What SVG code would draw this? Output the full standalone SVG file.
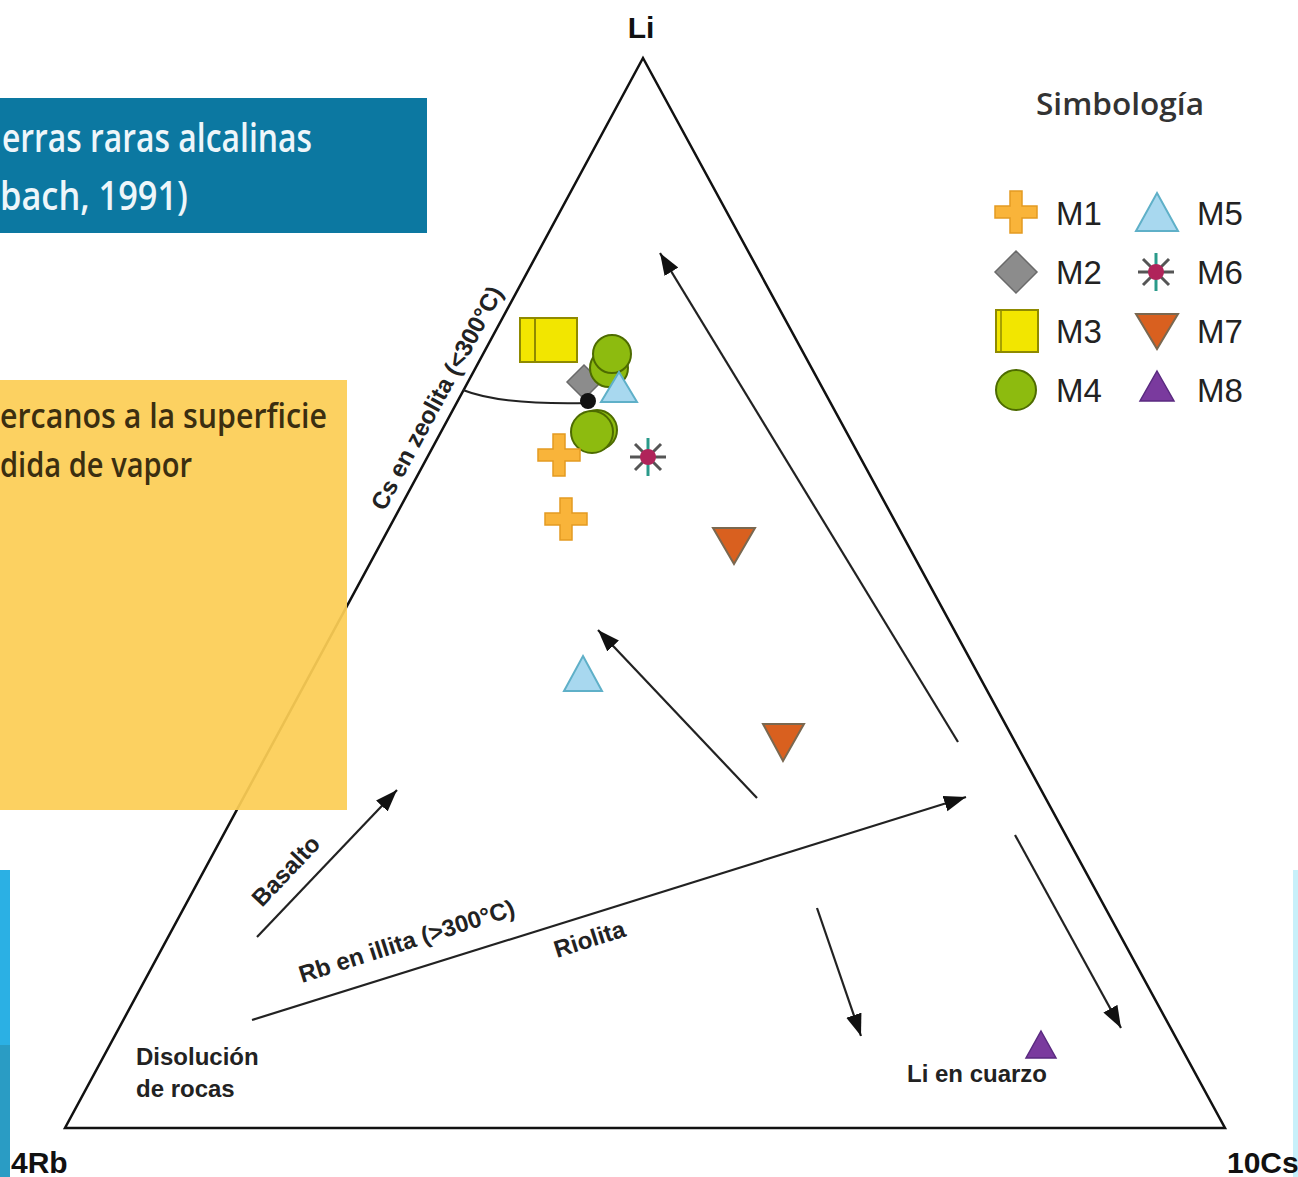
<svg xmlns="http://www.w3.org/2000/svg" width="1298" height="1177" viewBox="0 0 1298 1177">
<style>
.lbl{font-family:"Liberation Sans",Arial,sans-serif;font-weight:bold;font-size:24px;fill:#222}
.ax{font-family:"Liberation Sans",Arial,sans-serif;font-weight:bold;font-size:30px;fill:#111}
.leg{font-family:"Liberation Sans",Arial,sans-serif;font-size:33px;fill:#222}
.cond{font-family:"Open Sans","Noto Sans",sans-serif;font-weight:600}
.edge{fill:none;stroke:#111;stroke-width:2.5}
.arr{fill:none;stroke:#222;stroke-width:2.2;marker-end:url(#ah)}
.m1{fill:#f9b43a;stroke:#e39a22;stroke-width:1.5}
.m2{fill:#8c8c8c;stroke:#6a6a6a;stroke-width:1.5}
.m3{fill:#f2e600;stroke:#8f8a00;stroke-width:2}
.m4{fill:#8dbb0f;stroke:#4d6b00;stroke-width:2}
.m5{fill:#a8d8ef;stroke:#5fb0c8;stroke-width:2}
.m7{fill:#d9601f;stroke:#7a6850;stroke-width:2}
.m8{fill:#7a3a9e;stroke:#5a2a80;stroke-width:1.5}
</style>
<defs>
<marker id="ah" markerUnits="userSpaceOnUse" markerWidth="24" markerHeight="18" refX="22" refY="8" orient="auto">
<path d="M0,0 L22,8 L0,16 z" fill="#111"/>
</marker>
<path id="cross" d="M-6,-21 H6 V-6 H21 V6 H6 V21 H-6 V6 H-21 V-6 H-6 z"/>
<g id="star">
<g stroke="#555" stroke-width="3">
<line x1="-18" y1="0" x2="18" y2="0"/>
<line x1="-13" y1="-13" x2="13" y2="13"/>
<line x1="-13" y1="13" x2="13" y2="-13"/>
</g>
<line x1="0" y1="-19" x2="0" y2="19" stroke="#2a9a8a" stroke-width="3"/>
<circle r="8" fill="#b0245a"/>
</g>
</defs>
<rect width="1298" height="1177" fill="#fff"/>

<g id="banner">
<rect x="0" y="98" width="427" height="135" fill="#0c78a1"/>
<text class="cond" x="2" y="152" font-size="40" fill="#eef6fa" textLength="310" lengthAdjust="spacingAndGlyphs">erras raras alcalinas</text>
<text class="cond" x="0" y="210" font-size="40" fill="#eef6fa" textLength="188" lengthAdjust="spacingAndGlyphs">bach, 1991)</text>
</g>

<g id="left-strip">
<rect x="0" y="870" width="10" height="175" fill="#2bb0e4"/>
<rect x="0" y="1045" width="10" height="132" fill="#2a9cc4"/>
<rect x="1293" y="870" width="5" height="307" fill="#c8f0fa"/>
</g>

<g id="triangle">
<path class="edge" d="M643,58 L65,1128 L1225,1128 Z"/>
</g>

<g id="note">
<rect x="0" y="380" width="347" height="430" fill="#fccd55" fill-opacity="0.93"/>
<text class="cond" x="0" y="428" font-size="34" fill="#3b2e10" textLength="327" lengthAdjust="spacingAndGlyphs">ercanos a la superficie</text>
<text class="cond" x="0" y="477" font-size="34" fill="#3b2e10" textLength="192" lengthAdjust="spacingAndGlyphs">dida de vapor</text>
</g>

<g id="vertex-labels">
<text class="ax" x="641" y="38" text-anchor="middle" font-size="29">Li</text>
<text class="ax" x="11" y="1173">4Rb</text>
<text class="ax" x="1227" y="1173" font-size="28.5">10Cs</text>
</g>

<g id="connectors">
<line class="arr" x1="958" y1="742" x2="660" y2="253"/>
<line class="arr" x1="757" y1="798" x2="598" y2="630"/>
<line class="arr" x1="257" y1="937" x2="397" y2="790"/>
<line class="arr" x1="252" y1="1020" x2="966" y2="797"/>
<line class="arr" x1="817" y1="908" x2="861" y2="1036"/>
<line class="arr" x1="1015" y1="835" x2="1121" y2="1028"/>
<path d="M463,390 Q500,405 588,403" fill="none" stroke="#222" stroke-width="2"/>
</g>

<g id="process-labels">
<text class="lbl" transform="translate(444,402) rotate(-61.6)" text-anchor="middle" font-size="25">Cs en zeolita (&lt;300°C)</text>
<text class="lbl" transform="translate(262,908) rotate(-46.5)">Basalto</text>
<text class="lbl" transform="translate(302,983) rotate(-17.6)">Rb en illita (&gt;300°C)</text>
<text class="lbl" transform="translate(557,958) rotate(-17.5)">Riolita</text>
<text class="lbl" x="136" y="1065" font-size="24.5">Disolución</text>
<text class="lbl" x="136" y="1097" font-size="24.5">de rocas</text>
<text class="lbl" x="907" y="1082">Li en cuarzo</text>
</g>

<g id="samples">
<g id="s-m3"><rect class="m3" x="520" y="318" width="42" height="44"/><rect class="m3" x="535" y="318" width="42" height="44"/></g>
<g id="s-m2"><path class="m2" d="M584,365 L601,382 L584,399 L567,382 Z"/></g>
<g id="s-m4a"><circle class="m4" cx="609" cy="368" r="19"/><circle class="m4" cx="612" cy="354" r="19"/></g>
<g id="s-m5a"><path class="m5" d="M619,372 L637,402 L601,402 Z"/></g>
<g id="s-dot"><circle cx="588" cy="401" r="8" fill="#111"/></g>
<g id="s-m4b"><circle class="m4" cx="597" cy="430" r="20"/><circle class="m4" cx="592" cy="432" r="21"/></g>
<g id="s-m1a"><use href="#cross" class="m1" transform="translate(559,455)"/></g>
<g id="s-m1b"><use href="#cross" class="m1" transform="translate(566,519)"/></g>
<g id="s-m6"><use href="#star" transform="translate(648,457)"/></g>
<g id="s-m7a"><path class="m7" d="M713,528 L755,528 L734,564 Z"/></g>
<g id="s-m7b"><path class="m7" d="M763,724 L804,724 L783,761 Z"/></g>
<g id="s-m5b"><path class="m5" d="M583,656 L602,691 L564,691 Z"/></g>
<g id="s-m8"><path class="m8" d="M1041,1031 L1056,1058 L1026,1058 Z"/></g>
</g>

<g id="legend">
<text x="1120" y="115" text-anchor="middle" class="cond" font-size="30" fill="#333" textLength="168" lengthAdjust="spacingAndGlyphs">Simbología</text>
<g id="leg-m1"><use href="#cross" class="m1" transform="translate(1016,212)"/><text class="leg" x="1056" y="225">M1</text></g>
<g id="leg-m2"><path class="m2" d="M1016,251 L1037,272 L1016,293 L995,272 Z"/><text class="leg" x="1056" y="284">M2</text></g>
<g id="leg-m3"><rect class="m3" x="996" y="310" width="42" height="42"/><line x1="1001" y1="311" x2="1001" y2="351" stroke="#8f8a00" stroke-width="1.5"/><text class="leg" x="1056" y="343">M3</text></g>
<g id="leg-m4"><circle class="m4" cx="1016" cy="390" r="20"/><text class="leg" x="1056" y="402">M4</text></g>
<g id="leg-m5"><path class="m5" d="M1157,193 L1178,231 L1136,231 Z"/><text class="leg" x="1197" y="225">M5</text></g>
<g id="leg-m6"><use href="#star" transform="translate(1156,272)"/><text class="leg" x="1197" y="284">M6</text></g>
<g id="leg-m7"><path class="m7" d="M1136,314 L1178,314 L1157,349 Z"/><text class="leg" x="1197" y="343">M7</text></g>
<g id="leg-m8"><path class="m8" d="M1157,371 L1174,401 L1140,401 Z"/><text class="leg" x="1197" y="402">M8</text></g>
</g>
</svg>
